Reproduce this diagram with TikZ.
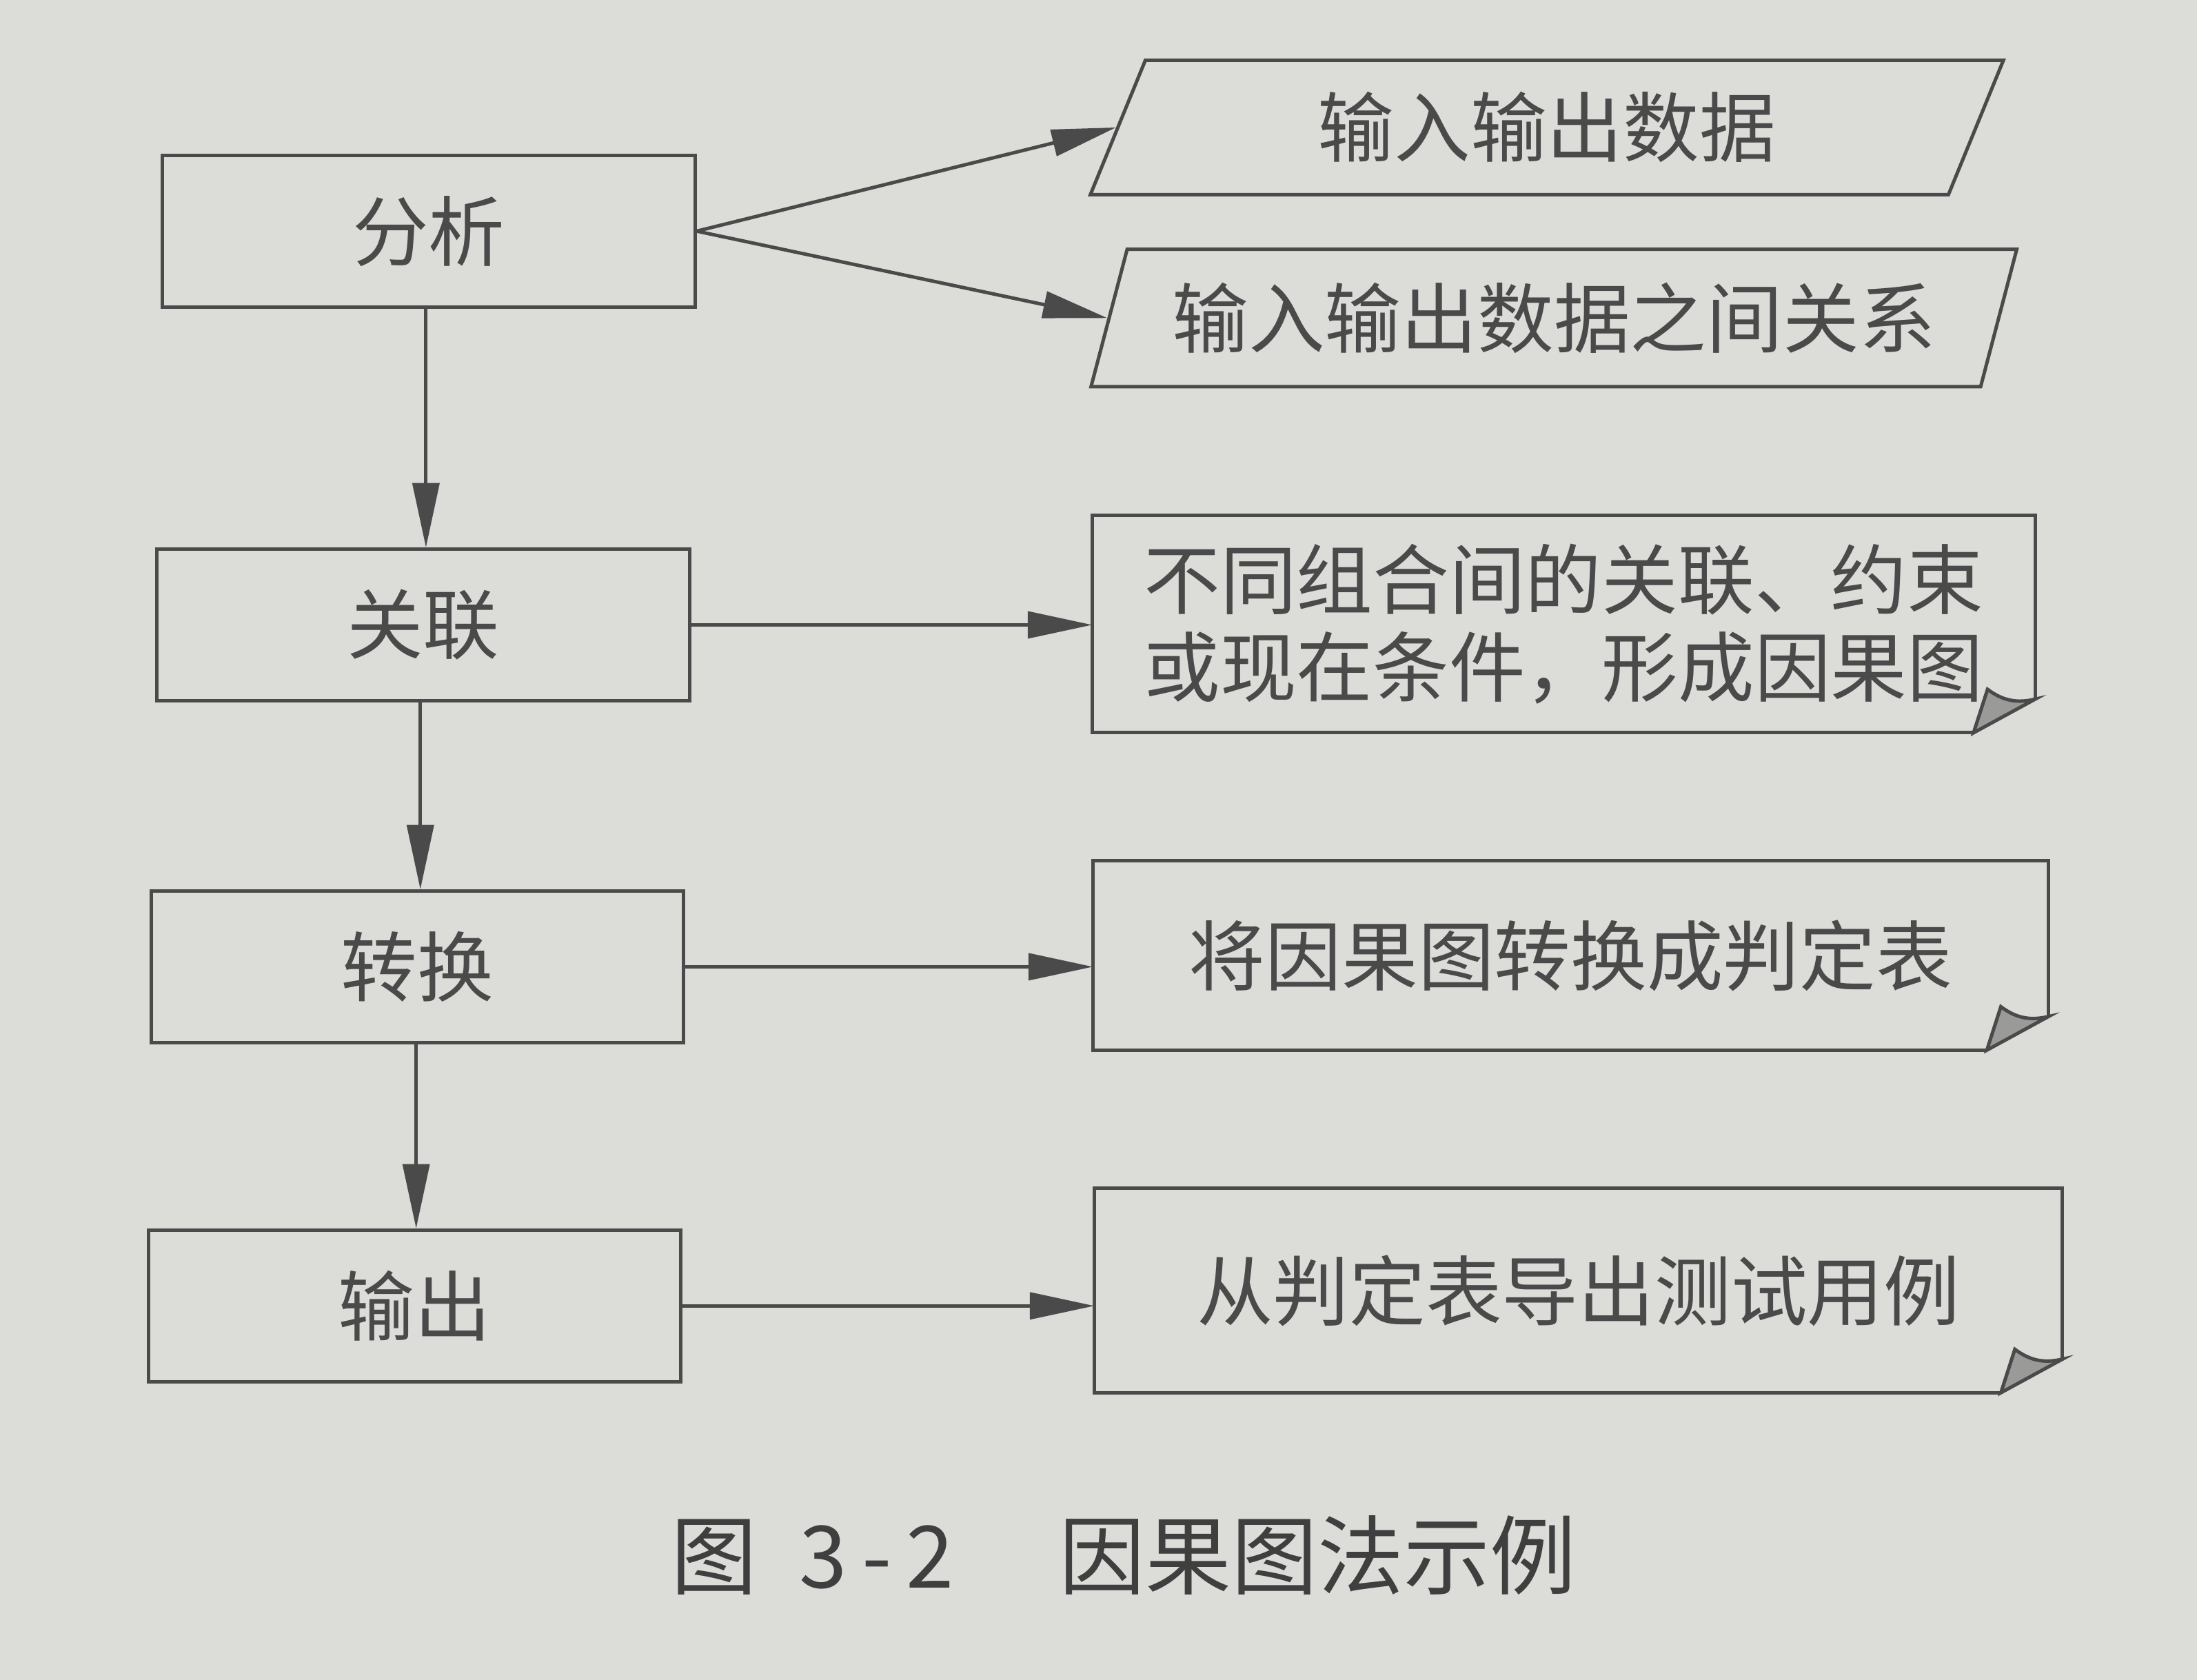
\documentclass[tikz,border=0pt]{standalone}
\usepackage{fontspec}
\newfontfamily\cjk{Noto Sans CJK SC}
\usepackage{tikz}
\usetikzlibrary{arrows.meta, shapes.geometric}
\usepackage{xcolor}
\definecolor{paper}{HTML}{DCDCD9}
\definecolor{ink}{HTML}{4A4A4A}
\definecolor{foldgray}{HTML}{9A9A98}

\begin{document}
\begin{tikzpicture}[
    font=\cjk\fontsize{15.5pt}{17.8pt}\selectfont,
    stage/.style={draw=ink, line width=0.7pt, text=ink, minimum width=3.8cm, minimum height=1.08cm},
    datum/.style={trapezium, trapezium left angle=72, trapezium right angle=108,
                  trapezium stretches=true, draw=ink, line width=0.7pt, text=ink},
    note/.style={text=ink, align=center, outer sep=0pt},
    flow/.style={ink, line width=0.7pt, -{Triangle[length=4.6mm, width=1.9mm]}}
]

    \path[use as bounding box, fill=paper] (0,0) rectangle (15.68,11.99);

	% steps on the left
    \node[stage] (fenxi) at (3.06,10.34) {分析};
    \node[stage] (guanlian) at (3.02,7.53) {关联};
    \node[stage] (zhuanhuan) at (2.98,5.09) {转换};
    \node[stage] (shuchu) at (2.96,2.67) {输出};

	% what each step gives
    \node[datum, minimum width=6.52cm, minimum height=0.96cm] (io) at (11.04,11.08) {输入输出数据};
    \node[datum, minimum width=6.62cm, minimum height=0.98cm] (iorel) at (11.09,9.72) {输入输出数据之间关系};
    \node[note, minimum width=6.73cm, minimum height=1.55cm] (note1) at (11.16,7.535) {不同组合间的关联、约束\\或现在条件，形成因果图};
    \node[note, minimum width=6.82cm, minimum height=1.35cm] (note2) at (11.21,5.17) {将因果图转换成判定表};
    \node[note, minimum width=6.91cm, minimum height=1.46cm] (note3) at (11.265,2.78) {从判定表导出测试用例};

    \foreach \n in {note1, note2, note3} {
        \draw[ink, line width=0.7pt] ([yshift=0.24cm]\n.south east) -- (\n.north east)
            -- (\n.north west) -- (\n.south west) -- ([xshift=-0.44cm]\n.south east);
        \draw[ink, line width=0.7pt, fill=foldgray] ([xshift=-0.44cm]\n.south east)
            -- ([xshift=-0.34cm, yshift=0.31cm]\n.south east) to[bend right=25]
            ([yshift=0.24cm]\n.south east) -- cycle;
    }

	% connectors
    \draw[flow] (fenxi.east) -- (io.west);
    \draw[flow] (fenxi.east) -- (iorel.west);
    \draw[flow] ([xshift=-0.02cm]fenxi.south) -- ([xshift=-0.02cm]fenxi.south |- guanlian.north);
    \draw[flow] ([xshift=-0.02cm]guanlian.south) -- ([xshift=-0.02cm]guanlian.south |- zhuanhuan.north);
    \draw[flow] ([xshift=-0.01cm]zhuanhuan.south) -- ([xshift=-0.01cm]zhuanhuan.south |- shuchu.north);
    \draw[flow] (guanlian.east) -- (guanlian.east -| note1.west);
    \draw[flow] (zhuanhuan.east) -- (zhuanhuan.east -| note2.west);
    \draw[flow] (shuchu.east) -- (shuchu.east -| note3.west);

    \node[text=ink!85!black, font=\cjk\fontsize{17.5pt}{20pt}\selectfont] (caption) at (8.02,0.89)
        {图\hspace{0.3cm}3\,-\,2\hspace{0.75cm}因果图法示例};
\end{tikzpicture}
\end{document}
